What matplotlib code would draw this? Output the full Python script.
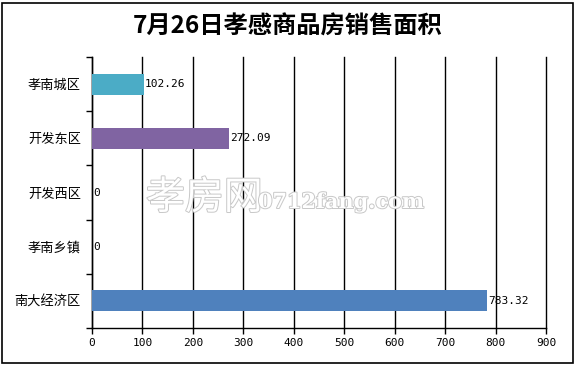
import matplotlib.pyplot as plt
import matplotlib.patheffects as pe
from matplotlib.patches import Rectangle

plt.rcParams['font.family'] = ['Noto Sans CJK SC', 'DejaVu Sans']

districts = ["孝南城区", "开发东区", "开发西区", "孝南乡镇", "南大经济区"]
areas = [102.26, 272.09, 0, 0, 783.32]
bar_colors = ["#4BACC6", "#8064A2", "#4F81BD", "#4F81BD", "#4F81BD"]
value_labels = ["102.26", "272.09", "0", "0", "783.32"]
x_ticks = [0, 100, 200, 300, 400, 500, 600, 700, 800, 900]


def main():
    fig = plt.figure(figsize=(5.76, 3.66), dpi=100)
    ax = fig.add_axes([92 / 576, 1 - 328 / 366, 454 / 576, 271 / 366])

    pos = list(range(len(districts)))
    ax.barh(pos, areas, height=0.39, color=bar_colors, zorder=3)

    for p, v, lab in zip(pos, areas, value_labels):
        ax.text(v + 2, p, lab, va="center", ha="left", fontsize=8,
                family=["DejaVu Sans Mono"], zorder=4)

    ax.set_xlim(0, 900)
    ax.set_ylim(4.5, -0.5)
    ax.set_xticks(x_ticks)
    ax.set_xticklabels([str(t) for t in x_ticks], fontsize=8,
                       family=["DejaVu Sans Mono"])

    # category labels centred, tick marks on the boundaries
    ax.set_yticks(pos)
    ax.set_yticklabels(districts, fontsize=9.5)
    ax.tick_params(axis="y", which="major", length=0, pad=8)
    ax.set_yticks([-0.5, 0.5, 1.5, 2.5, 3.5, 4.5], minor=True)
    ax.tick_params(axis="y", which="minor", length=4, width=1, color="black")
    ax.tick_params(axis="x", length=4, width=1, pad=3)

    ax.grid(True, axis="x", color="black", linewidth=1, zorder=1)
    for gl in ax.get_xgridlines():
        gl.set_clip_on(False)
    ax.set_axisbelow(True)
    for side in ["top", "right"]:
        ax.spines[side].set_visible(False)
    ax.spines["left"].set_linewidth(1)
    ax.spines["bottom"].set_linewidth(1)

    fig.text(0.5, 1 - 27 / 366, "7月26日孝感商品房销售面积", ha="center",
             va="center", fontsize=17.5, fontweight="bold")

    # watermark
    fig.text(146 / 576, 1 - 198 / 366, "孝房网", fontsize=28, color="white",
             va="center", ha="left",
             path_effects=[pe.withStroke(linewidth=1.4, foreground="#c8c8c8")])
    fig.text(258 / 576, 1 - 202 / 366, "0712fang.com", fontsize=15,
             color="white", va="center", ha="left",
             family=["DejaVu Serif"], fontweight="bold",
             path_effects=[pe.withStroke(linewidth=1.4, foreground="#c8c8c8")])

    fig.patches.append(Rectangle((2 / 576, 3 / 366), 571 / 576, 360 / 366,
                                 transform=fig.transFigure, fill=False,
                                 edgecolor="black", linewidth=1.2))

    fig.savefig("out.png", dpi=100)
    plt.close(fig)


if __name__ == "__main__":
    main()
